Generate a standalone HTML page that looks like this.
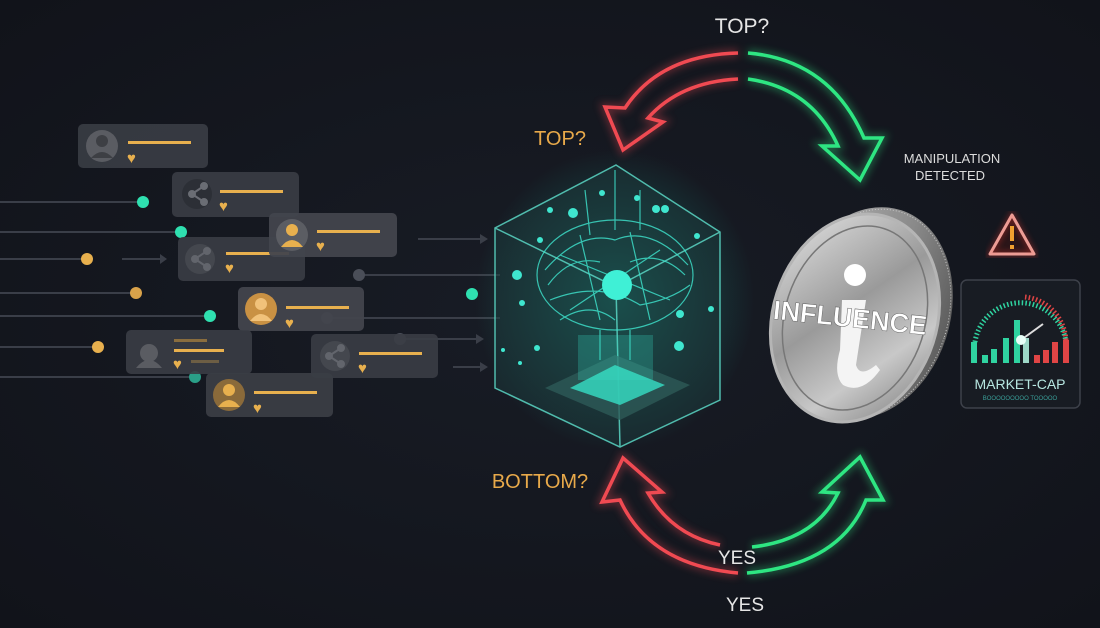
<!DOCTYPE html>
<html><head><meta charset="utf-8"><style>
html,body{margin:0;padding:0;background:#13161e;}
svg{display:block}
text{font-family:"Liberation Sans","DejaVu Sans",sans-serif}
</style></head><body>
<svg width="1100" height="628" viewBox="0 0 1100 628" xmlns="http://www.w3.org/2000/svg">
<defs>
<radialGradient id="bg" cx="0.5" cy="0.5" r="0.7"><stop offset="0" stop-color="#181c25"/><stop offset="1" stop-color="#11131a"/></radialGradient>
<radialGradient id="glow" cx="0.5" cy="0.5" r="0.5"><stop offset="0" stop-color="#1de9c4" stop-opacity="0.35"/><stop offset="1" stop-color="#1de9c4" stop-opacity="0"/></radialGradient>
<linearGradient id="coin" x1="0" y1="0" x2="1" y2="1"><stop offset="0" stop-color="#e6e6e6"/><stop offset="0.45" stop-color="#9a9a9a"/><stop offset="0.7" stop-color="#c8c8c8"/><stop offset="1" stop-color="#777"/></linearGradient>
<linearGradient id="edge" x1="0" y1="0" x2="1" y2="0"><stop offset="0" stop-color="#b0b0b0"/><stop offset="0.6" stop-color="#8a8a8a"/><stop offset="1" stop-color="#5e5e5e"/></linearGradient>
<filter id="blur"><feGaussianBlur stdDeviation="3"/></filter>
<filter id="ag" x="-20%" y="-20%" width="140%" height="140%"><feGaussianBlur stdDeviation="4"/></filter>
</defs>
<rect width="1100" height="628" fill="url(#bg)"/>

<!-- left lines -->
<g stroke="#3a3e48" stroke-width="2" fill="none">
<line x1="0" y1="202" x2="143" y2="202"/>
<line x1="0" y1="232" x2="181" y2="232"/>
<line x1="0" y1="259" x2="87" y2="259"/>
<line x1="122" y1="259" x2="160" y2="259"/>
<line x1="0" y1="293" x2="136" y2="293"/>
<line x1="0" y1="316" x2="210" y2="316"/>
<line x1="0" y1="347" x2="98" y2="347"/>
<line x1="0" y1="377" x2="195" y2="377"/>
<line x1="418" y1="239" x2="485" y2="239"/>
<line x1="359" y1="275" x2="500" y2="275"/>
<line x1="327" y1="318" x2="500" y2="318"/>
<line x1="400" y1="339" x2="480" y2="339"/>
<line x1="453" y1="367" x2="485" y2="367"/>
</g>
<g fill="#3a3e48">
<polygon points="160,254 167,259 160,264"/>
<polygon points="480,234 488,239 480,244"/>
<polygon points="476,334 484,339 476,344"/>
<polygon points="480,362 488,367 480,372"/>
</g>
<g>
<circle cx="143" cy="202" r="6" fill="#2fe0b0"/>
<circle cx="181" cy="232" r="6" fill="#2fe0b0"/>
<circle cx="87" cy="259" r="6" fill="#e8b04e"/>
<circle cx="136" cy="293" r="6" fill="#d9a24a"/>
<circle cx="210" cy="316" r="6" fill="#2fe0b0"/>
<circle cx="98" cy="347" r="6" fill="#e8b04e"/>
<circle cx="195" cy="377" r="6" fill="#2a9f88"/>
<circle cx="359" cy="275" r="6" fill="#4a4e58"/>
<circle cx="472" cy="294" r="6" fill="#2fe0b0"/>
<circle cx="327" cy="318" r="6" fill="#4a4e58"/>
<circle cx="400" cy="339" r="6" fill="#4a4e58"/>
</g>

<!-- cards -->
<g>
<g transform="translate(78,124)"><rect width="130" height="44" rx="5" fill="#3a3d45" opacity="0.9"/><circle cx="24" cy="22" r="16" fill="#5a5c62"/><circle cx="24" cy="17" r="6" fill="#3d3f44"/><path d="M13,34 Q24,22 35,34Z" fill="#3d3f44"/><rect x="50" y="17" width="63" height="3" fill="#e8b04e"/><text x="49" y="39" font-size="15" fill="#e8b04e">♥</text></g>
<g transform="translate(172,172)"><rect width="127" height="45" rx="5" fill="#3a3d45" opacity="0.9"/><circle cx="25" cy="22" r="15" fill="#2c2f36"/><g stroke="#6a6d74" stroke-width="2" fill="#6a6d74"><line x1="20" y1="22" x2="32" y2="14"/><line x1="20" y1="22" x2="32" y2="30"/><circle cx="20" cy="22" r="3"/><circle cx="32" cy="14" r="3"/><circle cx="32" cy="30" r="3"/></g><rect x="48" y="18" width="63" height="3" fill="#e8b04e"/><text x="47" y="39" font-size="15" fill="#e8b04e">♥</text></g>
<g transform="translate(178,237)"><rect width="127" height="44" rx="5" fill="#3a3d45" opacity="0.9"/><circle cx="22" cy="22" r="15" fill="#44474e"/><g stroke="#62656c" stroke-width="2" fill="#62656c"><line x1="17" y1="22" x2="29" y2="14"/><line x1="17" y1="22" x2="29" y2="30"/><circle cx="17" cy="22" r="3"/><circle cx="29" cy="14" r="3"/><circle cx="29" cy="30" r="3"/></g><rect x="48" y="15" width="63" height="3" fill="#e8b04e"/><text x="47" y="36" font-size="15" fill="#e8b04e">♥</text></g>
<g transform="translate(269,213)"><rect width="128" height="44" rx="5" fill="#42454d" opacity="0.95"/><circle cx="23" cy="22" r="16" fill="#5b5d63"/><circle cx="23" cy="17" r="6" fill="#e8b04e"/><path d="M12,34 Q23,20 34,34Z" fill="#e8b04e"/><rect x="48" y="17" width="63" height="3" fill="#e8b04e"/><text x="47" y="38" font-size="15" fill="#e8b04e">♥</text></g>
<g transform="translate(238,287)"><rect width="126" height="44" rx="5" fill="#42454d" opacity="0.95"/><circle cx="23" cy="22" r="16" fill="#c99143"/><circle cx="23" cy="17" r="6" fill="#f1c27a"/><path d="M12,34 Q23,20 34,34Z" fill="#f1c27a"/><rect x="48" y="19" width="63" height="3" fill="#e8b04e"/><text x="47" y="41" font-size="15" fill="#e8b04e">♥</text></g>
<g transform="translate(126,330)"><rect width="126" height="44" rx="5" fill="#3a3d45" opacity="0.9"/><circle cx="23" cy="23" r="9" fill="#5a5c62"/><path d="M10,38 Q23,22 36,38Z" fill="#5a5c62"/><rect x="48" y="9" width="33" height="3" fill="#8a6d3e"/><rect x="48" y="19" width="50" height="3" fill="#e8b04e"/><text x="47" y="39" font-size="15" fill="#e8b04e">♥</text><rect x="65" y="30" width="28" height="3" fill="#6d5e44"/></g>
<g transform="translate(311,334)"><rect width="127" height="44" rx="5" fill="#3a3d45" opacity="0.9"/><circle cx="24" cy="22" r="15" fill="#44474e"/><g stroke="#62656c" stroke-width="2" fill="#62656c"><line x1="18" y1="22" x2="30" y2="14"/><line x1="18" y1="22" x2="30" y2="30"/><circle cx="18" cy="22" r="3"/><circle cx="30" cy="14" r="3"/><circle cx="30" cy="30" r="3"/></g><rect x="48" y="18" width="63" height="3" fill="#e8b04e"/><text x="47" y="39" font-size="15" fill="#e8b04e">♥</text></g>
<g transform="translate(206,373)"><rect width="127" height="44" rx="5" fill="#3a3d45" opacity="0.95"/><circle cx="23" cy="22" r="16" fill="#8a6a3a"/><circle cx="23" cy="17" r="6" fill="#e8b04e"/><path d="M12,34 Q23,20 34,34Z" fill="#e8b04e"/><rect x="48" y="18" width="63" height="3" fill="#e8b04e"/><text x="47" y="40" font-size="15" fill="#e8b04e">♥</text></g>
</g>

<!-- cube -->
<ellipse cx="615" cy="300" rx="140" ry="150" fill="url(#glow)"/>
<polygon points="616,165 720,232 720,400 620,447 495,388 495,228" fill="#1c3a3c" opacity="0.5"/>
<g fill="none" stroke="#5ad6c4" stroke-width="1.5" opacity="0.85">
<polygon points="616,165 720,232 720,400 620,447 495,388 495,228"/>
<polyline points="495,228 616,287 720,232"/>
<line x1="616" y1="287" x2="620" y2="447"/>
</g>
<g fill="none" stroke="#3fe6cf" stroke-width="1.2" opacity="0.8">
<ellipse cx="615" cy="275" rx="78" ry="55"/>
<path d="M545,270 Q580,230 615,240 Q650,225 688,265 M550,300 Q600,280 640,305 Q670,300 690,285 M580,235 L600,320 M630,232 L650,320 M560,255 L670,300 M570,310 L660,250 M548,285 Q570,255 600,262 M630,262 Q660,250 685,275 M560,320 Q590,300 615,320"/>
<path d="M600,330 L600,360 M630,330 L630,360 M615,170 L615,230 M585,190 L590,235 M640,190 L640,230"/>
</g>
<circle cx="617" cy="285" r="15" fill="#3ff0d6"/>
<polygon points="615,355 690,385 620,420 545,388" fill="#2d5a58" opacity="0.8"/>
<polygon points="615,365 665,385 620,405 570,388" fill="#36e0c6" opacity="0.8"/>
<rect x="578" y="335" width="75" height="45" fill="#36e0c6" opacity="0.25"/>
<g fill="#3fe6cf">
<circle cx="517" cy="275" r="5"/><circle cx="522" cy="303" r="3"/><circle cx="503" cy="350" r="2"/><circle cx="520" cy="363" r="2"/><circle cx="550" cy="210" r="3"/><circle cx="573" cy="213" r="5"/><circle cx="602" cy="193" r="3"/><circle cx="637" cy="198" r="3"/><circle cx="656" cy="209" r="4"/><circle cx="665" cy="209" r="4"/><circle cx="680" cy="314" r="4"/><circle cx="711" cy="309" r="3"/><circle cx="679" cy="346" r="5"/><circle cx="537" cy="348" r="3"/><circle cx="540" cy="240" r="3"/><circle cx="697" cy="236" r="3"/>
</g>

<!-- coin -->
<ellipse cx="868" cy="313" rx="82" ry="108" transform="rotate(18 868 313)" fill="url(#edge)"/>
<ellipse cx="868" cy="313" rx="80" ry="106" transform="rotate(18 868 313)" fill="none" stroke="#c8c8c8" stroke-width="1" stroke-dasharray="1 2"/>
<ellipse cx="855" cy="318" rx="82" ry="106" transform="rotate(18 855 318)" fill="url(#coin)" stroke="#b5b5b5" stroke-width="3"/>
<ellipse cx="855" cy="318" rx="70" ry="94" transform="rotate(18 855 318)" fill="none" stroke="#777" stroke-width="1.5"/>
<circle cx="855" cy="275" r="11" fill="#fff"/>
<path d="M842,300 L866,300 L856,365 Q860,378 876,365 L880,370 Q862,395 843,385 Q833,375 840,350Z" fill="#f4f4f4"/>
<text x="850" y="327" font-size="27" font-weight="bold" fill="#fff" text-anchor="middle" transform="rotate(6 850 318)" stroke="#666" stroke-width="0.5">INFLUENCE</text>

<!-- warning -->
<polygon points="1012,215 1034,254 990,254" fill="#2a1518" stroke="#e8b8b0" stroke-width="3" stroke-linejoin="round"/>
<polygon points="1012,215 1034,254 990,254" fill="none" stroke="#ff3b30" stroke-width="6" opacity="0.3" filter="url(#blur)"/>
<rect x="1010" y="226" width="4" height="15" fill="#f0a030"/><rect x="1010" y="245" width="4" height="4" fill="#f0a030"/>

<!-- market cap -->
<rect x="961" y="280" width="119" height="128" rx="6" fill="#181c23" stroke="#3d414a" stroke-width="1.5"/>
<path d="M975,342 A46,46 0 0 1 1066,342" fill="none" stroke="#2fd3a0" stroke-width="5" stroke-dasharray="1.5 2.2"/>
<path d="M1025,297 A46,46 0 0 1 1066,342" fill="none" stroke="#e04545" stroke-width="5" stroke-dasharray="1.5 2.2"/>
<g fill="#2fd3a0"><rect x="971" y="342" width="6" height="21"/><rect x="982" y="355" width="6" height="8"/><rect x="991" y="349" width="6" height="14"/><rect x="1003" y="338" width="6" height="25"/><rect x="1014" y="320" width="6" height="43"/></g>
<g fill="#e04545"><rect x="1034" y="355" width="6" height="8"/><rect x="1043" y="350" width="6" height="13"/><rect x="1052" y="342" width="6" height="21"/><rect x="1063" y="340" width="6" height="23"/></g>
<rect x="1023" y="338" width="6" height="25" fill="#9dd8c8"/>
<line x1="1021" y1="340" x2="1043" y2="324" stroke="#ddd" stroke-width="2"/><circle cx="1021" cy="340" r="5" fill="#e8fff8"/>
<text x="1020" y="389" font-size="14" fill="#b7e6e0" text-anchor="middle">MARKET-CAP</text>
<text x="1020" y="400" font-size="6" fill="#3a9e98" text-anchor="middle">BOOOOOOOOO TOOOOO</text>

<!-- arrows glow -->
<g fill="none" stroke-width="8" opacity="0.35" filter="url(#ag)">
<path d="M738,53 Q660,55 625,108 L605,107 L623,150 L663,122 L648,118 Q680,82 738,79" stroke="#f04a52"/>
<path d="M748,53 Q830,60 864,138 L882,138 L860,180 L822,146 L838,146 Q812,88 748,79" stroke="#2ee682"/>
<path d="M738,573 Q650,565 620,500 L602,502 L623,458 L662,492 L648,493 Q672,535 720,545" stroke="#f04a52"/>
<path d="M747,573 Q840,565 866,500 L883,500 L860,457 L822,492 L838,493 Q815,540 752,547" stroke="#2ee682"/>
</g>
<g fill="none" stroke-width="3.5" stroke-linejoin="miter">
<path d="M738,53 Q660,55 625,108 L605,107 L623,150 L663,122 L648,118 Q680,82 738,79" stroke="#f04a52"/>
<path d="M748,53 Q830,60 864,138 L882,138 L860,180 L822,146 L838,146 Q812,88 748,79" stroke="#2ee682"/>
<path d="M738,573 Q650,565 620,500 L602,502 L623,458 L662,492 L648,493 Q672,535 720,545" stroke="#f04a52"/>
<path d="M747,573 Q840,565 866,500 L883,500 L860,457 L822,492 L838,493 Q815,540 752,547" stroke="#2ee682"/>
</g>

<!-- labels -->
<text x="742" y="33" font-size="21" fill="#e6e6e6" text-anchor="middle">TOP?</text>
<text x="560" y="145" font-size="20" fill="#e8a94a" text-anchor="middle">TOP?</text>
<text x="540" y="488" font-size="20" fill="#e8a94a" text-anchor="middle">BOTTOM?</text>
<text x="737" y="564" font-size="19" fill="#e6e6e6" text-anchor="middle">YES</text>
<text x="745" y="611" font-size="19" fill="#e6e6e6" text-anchor="middle">YES</text>
<text x="952" y="163" font-size="13" fill="#dcdcdc" text-anchor="middle">MANIPULATION</text>
<text x="950" y="180" font-size="13" fill="#dcdcdc" text-anchor="middle">DETECTED</text>
</svg>
</body></html>
